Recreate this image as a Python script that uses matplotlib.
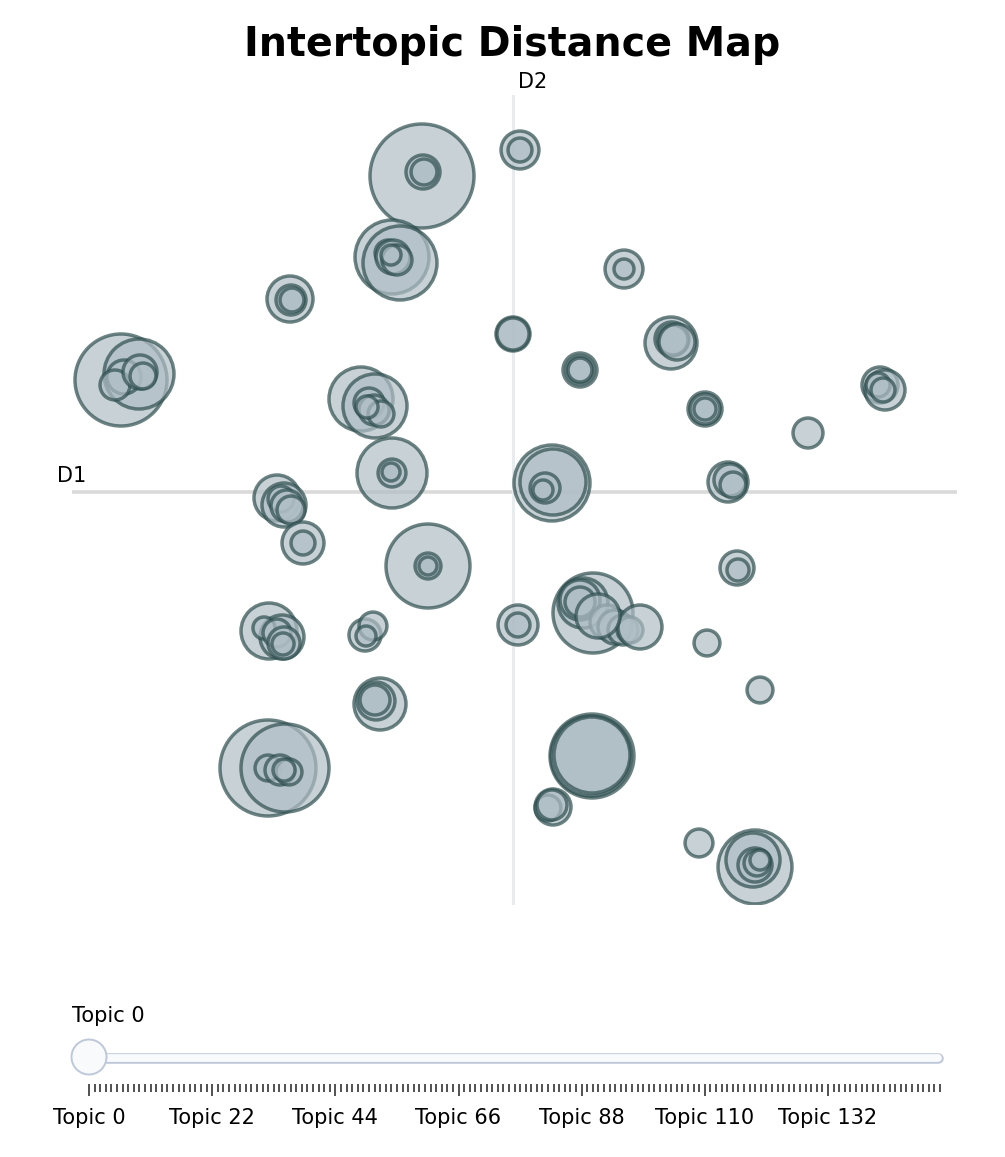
#!/usr/bin/python3
"""
Intertopic distance map (BERTopic style) with a topic slider underneath.
"""

import matplotlib
matplotlib.use("Agg")
import numpy as np
import matplotlib.pyplot as plt
from matplotlib.patches import Circle

# topic positions in the 2D embedding (D1, D2) and topic sizes (documents)
d1 = [-9.1, -9.0, -8.9,
      0.7, 0.7,
      -12.1, -11.3, -12.5, -12.0, -11.6, -12.2,
      -22.3, -22.2, -22.1,
      11.1, 11.1,
      0.0, 0.0,
      15.8, 15.9, 16.0, 16.4,
      6.7, 6.7, 6.7,
      -39.2, -37.4, -38.9, -39.8, -37.3, -37.0,
      -15.2, -13.8, -14.4, -13.9, -13.2, -14.6,
      19.2, 19.2, 19.2,
      36.7, 37.2, 36.5, 37.0,
      29.5,
      -12.1, -12.1, -12.2,
      3.9, 4.0, 3.2, 3.0,
      21.5, 21.7, 22.0,
      -23.6, -22.9, -23.2, -22.6, -22.2,
      -21.0, -21.0,
      -8.5, -8.5, -8.5,
      22.4, 22.5,
      8.0, 7.0, 6.7, 6.7, 9.4, 10.2, 11.0, 11.7, 12.7, 8.5,
      0.5, 0.5,
      -24.4, -23.1, -24.9, -23.6, -22.9, -23.0,
      -14.8, -14.0, -14.7,
      19.4,
      -13.3, -13.7, -13.8,
      24.7,
      -24.5, -22.8, -24.5, -23.3, -22.4, -22.9,
      7.9, 7.8, 7.9,
      4.0, 3.5, 3.9,
      18.6,
      24.2, 24.0, 24.2, 24.4, 24.7]
d2 = [31.6, 32.0, 32.0,
      34.2, 34.2,
      23.5, 22.9, 23.9, 23.5, 23.2, 23.7,
      19.3, 19.2, 19.2,
      22.3, 22.3,
      15.8, 15.8,
      14.9, 15.3, 15.2, 15.0,
      12.2, 12.2, 12.2,
      11.2, 11.8, 11.5, 10.7, 12.0, 11.6,
      9.3, 8.6, 8.9, 8.2, 7.8, 8.5,
      8.3, 8.3, 8.3,
      10.7, 10.2, 10.7, 10.2,
      5.9,
      1.9, 1.9, 2.0,
      0.9, 1.0, 0.4, 0.2,
      1.0, 1.2, 0.7,
      -0.6, -1.3, -0.7, -1.4, -1.8,
      -5.1, -5.1,
      -7.4, -7.4, -7.4,
      -7.6, -7.8,
      -12.1, -11.1, -10.8, -11.0, -13.0, -13.5, -13.8, -13.8, -13.5, -12.4,
      -13.3, -13.3,
      -13.9, -14.5, -13.6, -14.1, -15.1, -15.2,
      -14.3, -13.4, -14.4,
      -15.1,
      -21.2, -20.9, -20.8,
      -19.8,
      -27.6, -27.6, -27.6, -27.8, -28.0, -27.8,
      -26.4, -26.4, -26.3,
      -31.5, -31.6, -31.3,
      -35.1,
      -37.5, -36.8, -37.3, -37.1, -36.8]
sizes = [1000, 107, 62,
         133, 53,
         506, 506, 62, 107, 83, 37,
         196, 83, 53,
         133, 37,
         107, 95,
         250, 107, 83, 120,
         107, 72, 53,
         783, 453, 107, 83, 107, 62,
         379, 379, 83, 83, 62, 45,
         107, 83, 45,
         120, 148, 53, 53,
         83,
         453, 72, 30,
         534, 403, 83, 37,
         148, 95, 62,
         196, 179, 62, 95, 72,
         163, 53,
         652, 62, 30,
         107, 45,
         592, 231, 148, 83, 107, 107, 83, 62, 179, 179,
         148, 53,
         290, 179, 45, 72, 95, 45,
         95, 72, 37,
         62,
         250, 133, 83,
         62,
         852, 716, 62, 83, 62, 45,
         652, 592, 534,
         120, 62, 83,
         72,
         506, 270, 107, 62, 37]

n_topics = 153
label_stride = 22
topic_labels = [f"Topic {i}" for i in range(n_topics)]

W, H = 1005, 1157
fig = plt.figure(figsize=(W / 100, H / 100), dpi=100)

# main map
ax = fig.add_axes([72 / W, 1 - 905 / H, 885 / W, 810 / H])
ax.set_xlim(-44.1, 44.4)
ax.set_ylim(-41.3, 39.7)
ax.axis("off")
ax.axhline(0, color="#DADADA", lw=2.6, zorder=0)
ax.axvline(0, color="#E8ECEE", lw=2.2, zorder=0)

sizes = np.array(sizes, dtype=float)
max_diam_pt = 104 * 0.72
ax.scatter(d1, d2, s=max_diam_pt ** 2 * sizes / sizes.max(),
           c="#B0BEC5", edgecolors="#2F4F4F", linewidths=2.5, alpha=0.7, zorder=2)

# overlay in pixel units for title, labels and slider
ui = fig.add_axes([0, 0, 1, 1], facecolor="none")
ui.set_xlim(0, W)
ui.set_ylim(H, 0)
ui.axis("off")

ui.text(W / 2 + 10, 45, "Intertopic Distance Map", ha="center", va="center",
        fontsize=28.5, fontweight="bold", color="black")
ui.text(72, 476, "D1", ha="center", va="center", fontsize=15)
ui.text(533, 82, "D2", ha="center", va="center", fontsize=15)

# slider
x0, x1 = 89, 940
ui.plot([x0, x1 - 2], [1057.5, 1057.5], color="#BEC8D9", lw=7.6,
        solid_capstyle="round", zorder=1)
ui.plot([x0, x1 - 2], [1057.5, 1057.5], color="#F8FAFC", lw=5.6,
        solid_capstyle="round", zorder=2)
ui.add_patch(Circle((x0, 1057), 17.5, facecolor="#F8FAFC", edgecolor="#BEC8D9",
                    lw=1.4, zorder=3))
ui.text(72, 1016, topic_labels[0], ha="left", va="center", fontsize=15)

tick_x = np.linspace(x0, x1, n_topics)
for i, tx in enumerate(tick_x):
    major = i % label_stride == 0
    ui.plot([tx, tx], [1084, 1084 + (12 if major else 8)], color="#222222",
            lw=1.1, solid_capstyle="butt")
    if major:
        ui.text(tx, 1118, topic_labels[i], ha="center", va="center", fontsize=15)

fig.savefig("out.png", dpi=100)
